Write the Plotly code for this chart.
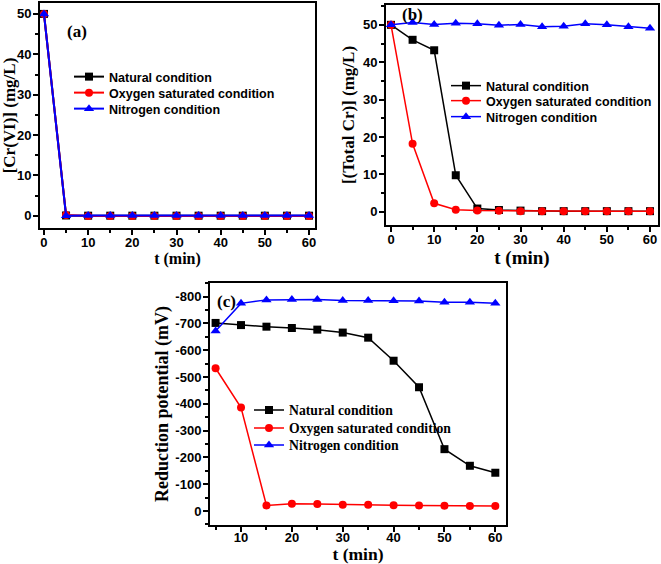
import plotly.graph_objects as go

# ---------------- data ----------------
t_ab = [0, 5, 10, 15, 20, 25, 30, 35, 40, 45, 50, 55, 60]
t_c = [5, 10, 15, 20, 25, 30, 35, 40, 45, 50, 55, 60]

series_names = ["Natural condition", "Oxygen saturated condition", "Nitrogen condition"]
series_colors = ["#000000", "#ff0000", "#0000ff"]
series_symbols = ["square", "circle", "triangle-up"]

# (a) [Cr(VI)] (mg/L)
a_natural = [50, 0.1, 0.05, 0.05, 0.05, 0.05, 0.05, 0.05, 0.05, 0.05, 0.05, 0.05, 0.05]
a_oxygen = [50, 0.2, 0.0, 0.0, 0.0, 0.0, 0.0, 0.0, 0.0, 0.0, 0.0, 0.0, 0.0]
a_nitrogen = [50, 0.05, 0.1, 0.1, 0.1, 0.1, 0.1, 0.1, 0.1, 0.1, 0.1, 0.1, 0.1]

# (b) [(Total Cr)] (mg/L)
b_natural = [50, 46.0, 43.2, 9.8, 0.9, 0.5, 0.35, 0.2, 0.2, 0.2, 0.2, 0.2, 0.2]
b_oxygen = [50, 18.2, 2.3, 0.6, 0.35, 0.3, 0.2, 0.2, 0.2, 0.2, 0.2, 0.2, 0.2]
b_nitrogen = [50, 50.6, 50.1, 50.4, 50.3, 49.9, 50.1, 49.5, 49.6, 50.3, 50.0, 49.5, 49.1]

# (c) Reduction potential (mV)
c_natural = [-702, -694, -688, -683, -677, -666, -647, -561, -462, -231, -169, -143]
c_oxygen = [-533, -386, -21, -27, -26, -24, -24, -22, -21, -20, -19, -19]
c_nitrogen = [-672, -775, -788, -789, -789, -786, -786, -785, -784, -779, -779, -775]

c_tickvals = [-800, -700, -600, -500, -400, -300, -200, -100, 0]
c_ticktext = ["-800", "-700", "-600", "-500", "-400", "-300", "-200", "-100", "0"]

W, H = 661, 564

def px_x(p):
    return p / W

def px_y(p):
    return 1 - p / H

sans_bold = dict(family="Liberation Sans, Arial, sans-serif", size=13, color="black", weight="bold")
serif_bold = dict(family="Liberation Serif, Times New Roman, serif", color="black", weight="bold")
legend_sans = dict(sans_bold, size=12.5)
legend_serif = dict(serif_bold, size=13.7)

fig = go.Figure()

# panel: axes, x data, series, line width, legend left (px), legend row centers (px), legend font
panels = [
    ("x", "y", t_ab, [a_natural, a_oxygen, a_nitrogen], 2.0, 69, [77, 93, 109], legend_sans),
    ("x2", "y2", t_ab, [b_natural, b_oxygen, b_nitrogen], 1.5, 446, [86, 101, 117], legend_sans),
    ("x3", "y3", t_c, [c_natural, c_oxygen, c_nitrogen], 1.5, 249, [410, 428, 445], legend_serif),
]

legends = {}
k = 0
for xa, ya, tx, vals, lw, lx, rows, lfont in panels:
    for name, col, sym, v, ry in zip(series_names, series_colors, series_symbols, vals, rows):
        k += 1
        lname = "legend" if k == 1 else f"legend{k}"
        fig.add_trace(go.Scatter(
            x=tx, y=v, name=name, xaxis=xa, yaxis=ya, legend=lname,
            mode="lines+markers",
            line=dict(color=col, width=lw),
            marker=dict(symbol=sym, color=col, size=9 if sym == "triangle-up" else 8),
        ))
        legends[lname] = dict(x=px_x(lx), y=px_y(ry), xanchor="left", yanchor="middle",
                              font=lfont, bgcolor="rgba(0,0,0,0)", itemwidth=30)

def axis(domain, rng, anchor, title, title_size, standoff, label_shift, dtick=None, minor_dtick=None, **kw):
    d = dict(
        domain=domain, range=rng, anchor=anchor, automargin=False,
        showline=True, linecolor="black", linewidth=2, mirror=True,
        ticks="outside", ticklen=5, tickwidth=1.5, tickcolor="black",
        showgrid=False, zeroline=False,
        tickfont=sans_bold,
        ticklabelstandoff=label_shift,
        title=dict(text=title, font=dict(serif_bold, size=title_size), standoff=standoff),
        minor=dict(ticks="outside", ticklen=3, tickwidth=1.5, tickcolor="black",
                   dtick=minor_dtick, showgrid=False),
    )
    if dtick is not None:
        d["dtick"] = dtick
        d["tick0"] = 0
    d.update(kw)
    return d

fig.update_layout(
    width=W, height=H,
    margin=dict(l=0, r=0, t=0, b=0),
    paper_bgcolor="white", plot_bgcolor="white",
    showlegend=True,
    # panel (a)
    xaxis=axis([px_x(40), px_x(315)], [-0.9, 61.35], "y", "t (min)", 16, 3, -4, dtick=10, minor_dtick=5),
    yaxis=axis([px_y(228), px_y(3)], [-3.0, 52.7], "x", "[Cr(VI)] (mg/L)", 17, 6, -1, dtick=10, minor_dtick=5),
    # panel (b)
    xaxis2=axis([px_x(386), px_x(658)], [-1.16, 61.85], "y2", "t (min)", 19, 3, -4, dtick=10, minor_dtick=5),
    yaxis2=axis([px_y(225), px_y(5)], [-3.5, 55.3], "x2", "[(Total Cr)] (mg/L)", 17, 4, -1, dtick=10, minor_dtick=5),
    # panel (c)
    xaxis3=axis([px_x(210), px_x(506)], [3.9, 62.1], "y3", "t (min)", 17.5, 6, -6, dtick=10, minor_dtick=5),
    yaxis3=axis([px_y(525), px_y(283)], [52, -851], "x3", "Reduction potential (mV)", 18, 2, -1,
                minor_dtick=50, tickvals=c_tickvals, ticktext=c_ticktext),
    annotations=[
        dict(text="(a)", x=px_x(77), y=px_y(32), xref="paper", yref="paper", xanchor="center", yanchor="middle",
             showarrow=False, font=dict(serif_bold, size=17)),
        dict(text="(b)", x=px_x(412), y=px_y(15), xref="paper", yref="paper", xanchor="center", yanchor="middle",
             showarrow=False, font=dict(serif_bold, size=17)),
        dict(text="(c)", x=px_x(226), y=px_y(301), xref="paper", yref="paper", xanchor="center", yanchor="middle",
             showarrow=False, font=dict(serif_bold, size=17)),
    ],
)
fig.update_layout(**legends)

fig.write_html("out.html", config={"displayModeBar": False},
               post_script="document.body.style.margin='0';")
